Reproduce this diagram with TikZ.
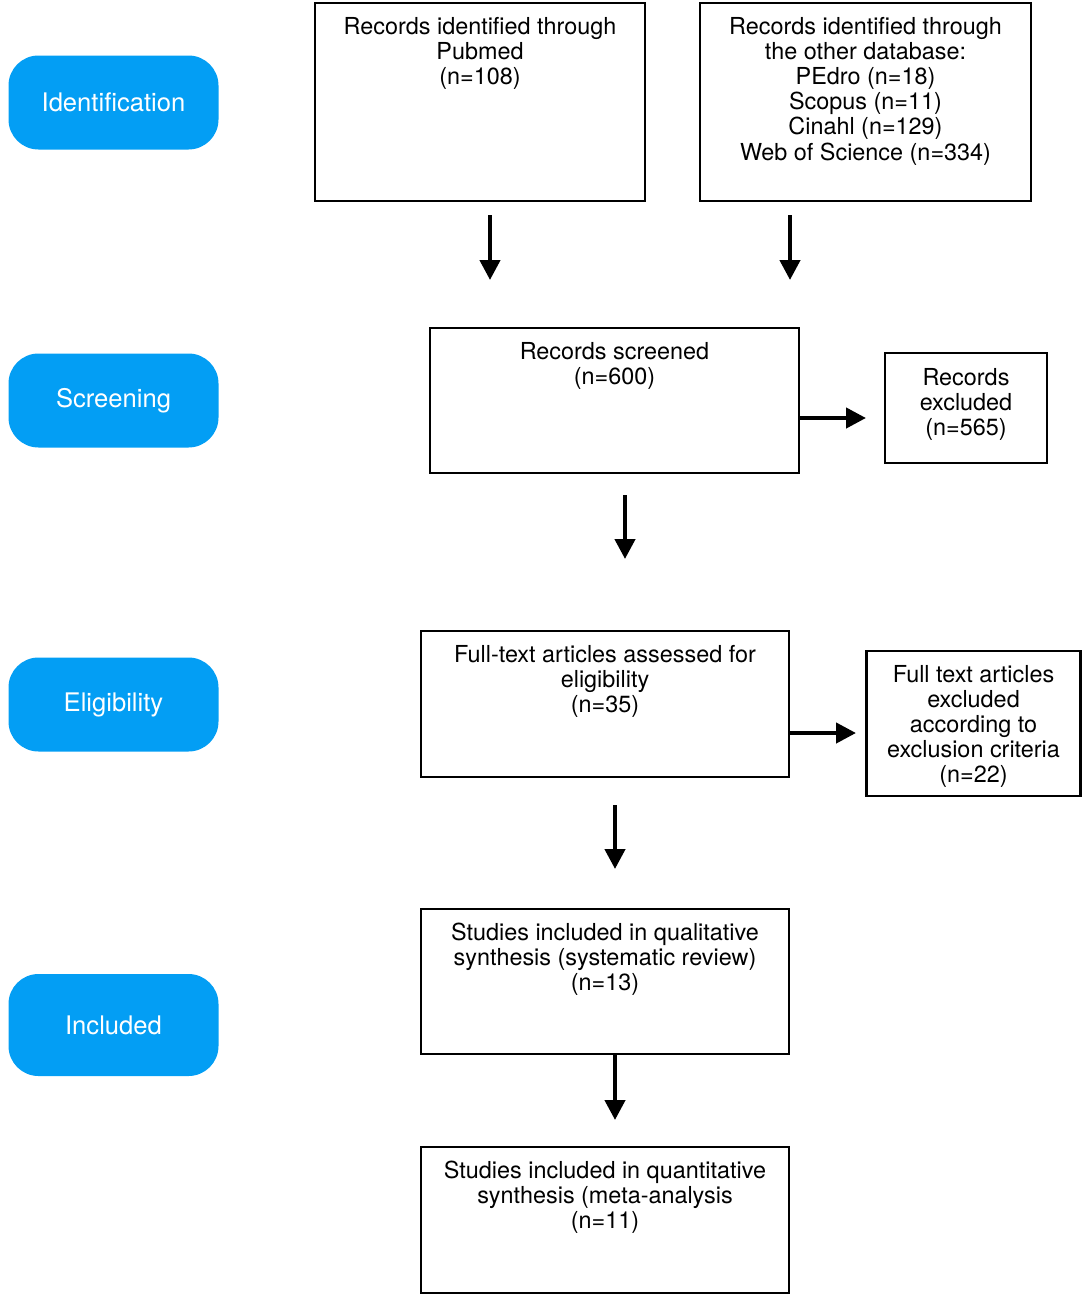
\documentclass[tikz,border=0pt]{standalone}
\usepackage{fontspec}
\setmainfont{TeX Gyre Heros}
\usetikzlibrary{arrows.meta}
\definecolor{stageblue}{RGB}{3,158,244}
\tikzset{
  box/.style={draw=black, line width=2.3pt, rectangle, inner sep=0pt},
  txt/.style={align=center, inner sep=0pt, anchor=north, font=\fontsize{23.4}{25.2}\selectfont},
  stage/.style={fill=stageblue, rounded corners=30pt, minimum width=210pt, text=white, inner sep=0pt, font=\fontsize{25.6}{28}\selectfont},
  flow/.style={line width=4.3pt, -{Triangle[length=20pt, width=20pt]}},
}
\begin{document}
\begin{tikzpicture}[x=1pt,y=-1pt]
\useasboundingbox (0,0) rectangle (1084,1299);

% stage labels
\node[stage, minimum height=94pt] (sid) at (113.5,102.5) {Identification};
\node[stage, minimum height=94pt] (sscr) at (113.5,400.5) {Screening};
\node[stage, minimum height=94pt] (selig) at (113.5,704.5) {Eligibility};
\node[stage, minimum height=102pt] (sinc) at (113.5,1025) {Included};

% boxes
\node[box, minimum width=330pt, minimum height=198pt] (b1) at (480,102) {};
\node[txt] (t1) at ([yshift=-15pt]b1.north) {Records identified through\\Pubmed\\(n=108)};

\node[box, minimum width=331pt, minimum height=198pt] (b2) at (865.5,102) {};
\node[txt] (t2) at ([yshift=-15pt]b2.north) {Records identified through\\the other database:\\PEdro (n=18)\\Scopus (n=11)\\Cinahl (n=129)\\Web of Science (n=334)};

\node[box, minimum width=369pt, minimum height=145pt] (b3) at (614.5,400.5) {};
\node[txt] (t3) at ([yshift=-15pt]b3.north) {Records screened\\(n=600)};

\node[box, minimum width=162pt, minimum height=110pt] (b4) at (966,408) {};
\node[txt] (t4) at ([yshift=-16pt]b4.north) {Records\\excluded\\(n=565)};

\node[box, minimum width=368pt, minimum height=146pt] (b5) at (605,704) {};
\node[txt] (t5) at ([yshift=-15pt]b5.north) {Full-text articles assessed for\\eligibility\\(n=35)};

\node[box, minimum width=214pt, minimum height=145pt] (b6) at (973.5,723.5) {};
\node[txt] (t6) at ([yshift=-15pt]b6.north) {Full text articles\\excluded\\according to\\exclusion criteria\\(n=22)};

\node[box, minimum width=368pt, minimum height=145pt] (b7) at (605,981.5) {};
\node[txt] (t7) at ([yshift=-15pt]b7.north) {Studies included in qualitative\\synthesis (systematic review)\\(n=13)};

\node[box, minimum width=368pt, minimum height=146pt] (b8) at (605,1220) {};
\node[txt] (t8) at ([yshift=-15pt]b8.north) {Studies included in quantitative\\synthesis (meta-analysis\\(n=11)};

% arrow end points
\coordinate (a1s) at (490,215);
\coordinate (a1e) at (490,280);
\coordinate (a2s) at (790,215);
\coordinate (a2e) at (790,280);
\coordinate (a3e) at (866,418);
\coordinate (a4s) at (625,495);
\coordinate (a4e) at (625,559);
\coordinate (a5e) at (856,733);
\coordinate (a6s) at (615,805);
\coordinate (a6e) at (615,869);
\coordinate (a7e) at (615,1120);

\draw[flow] (a1s) -- (a1e);
\draw[flow] (a2s) -- (a2e);
\draw[flow] (b3.east |- a3e) -- (a3e);
\draw[flow] (a4s) -- (a4e);
\draw[flow] (b5.east |- a5e) -- (a5e);
\draw[flow] (a6s) -- (a6e);
\draw[flow] (b7.south -| a7e) -- (a7e);
\end{tikzpicture}
\end{document}
